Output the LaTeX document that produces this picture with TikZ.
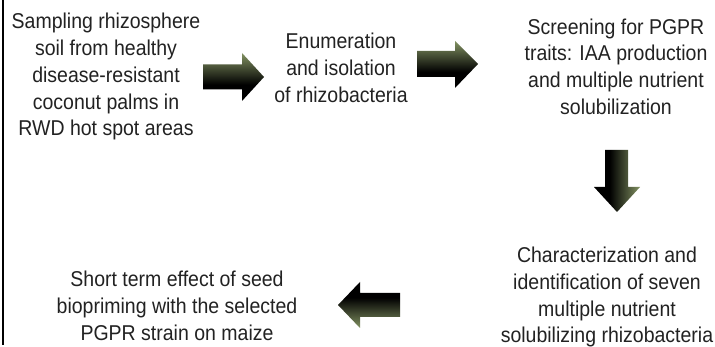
\documentclass[tikz,border=0pt]{standalone}
\usepackage{fontspec}
\setmainfont{Liberation Sans}
\usepackage{graphicx}
\definecolor{olive}{RGB}{130,146,98}
\definecolor{txtc}{RGB}{34,34,34}
\pgfdeclareverticalshading{arrowv}{100bp}{color(0bp)=(black); color(25bp)=(black); color(42bp)=(black); color(75bp)=(olive); color(100bp)=(olive)}
\pgfdeclarehorizontalshading{arrowh}{100bp}{color(0bp)=(black); color(25bp)=(black); color(42bp)=(black); color(75bp)=(olive); color(100bp)=(olive)}
\newcommand{\flowtxt}[1]{\scalebox{1}[1.1]{\begin{tabular}{@{}c@{}}#1\end{tabular}}}
\begin{document}
\begin{tikzpicture}[x=1pt,y=1pt,
  txt/.style={inner sep=0pt, text=txtc, font=\fontsize{19.5}{24.3}\selectfont},
  olivetop/.style={shading=arrowv, draw=none},
  olivebottom/.style={shading=arrowv, shading angle=180, draw=none},
  oliveright/.style={shading=arrowh, draw=none}]
\useasboundingbox (0,0) rectangle (715,347);
\fill[white] (0,0) rectangle (715,347);
\draw[line width=1.6pt] (3,347) -- (3,2);

\node[txt] (s1) at (106,270) {\flowtxt{Sampling rhizosphere\\soil from healthy\\disease-resistant\\coconut palms in\\RWD hot spot areas}};
\node[txt] (s2) at (341,277) {\flowtxt{Enumeration\\and isolation\\of rhizobacteria}};
\node[txt] (s3) at (616,278) {\flowtxt{Screening for PGPR\\traits: IAA production\\and multiple nutrient\\solubilization}};
\node[txt] (s4) at (607,49.5) {\flowtxt{Characterization and\\identification of seven\\multiple nutrient\\solubilizing rhizobacteria}};
\node[txt] (s5) at (177,39) {\flowtxt{Short term effect of seed\\biopriming with the selected\\PGPR strain on maize}};

% block arrows
\shade[olivetop] (203,282.5) -- (242,282.5) -- (242,294) -- (264,270) -- (242,246) -- (242,257.5) -- (203,257.5) -- cycle;
\shade[olivetop] (417,296) -- (455,296) -- (455,306) -- (478,283) -- (455,259) -- (455,270) -- (417,270) -- cycle;
\shade[oliveright] (605,197) -- (628,197) -- (628,160) -- (640,160) -- (617,135) -- (594,160) -- (605,160) -- cycle;
\shade[olivebottom] (400,54) -- (360,54) -- (360,65) -- (338,42) -- (360,19) -- (360,30) -- (400,30) -- cycle;
\end{tikzpicture}
\end{document}
